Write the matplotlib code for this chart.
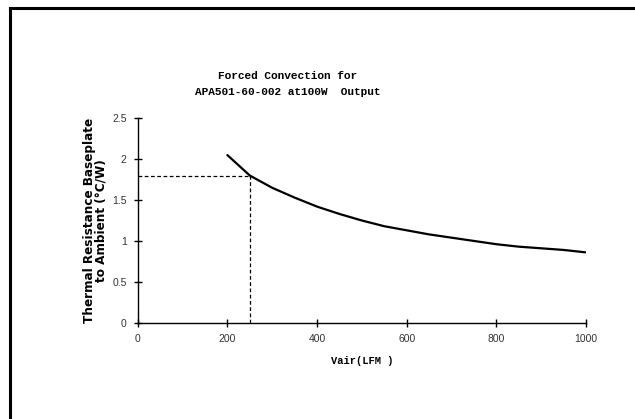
import matplotlib
matplotlib.use("Agg")
import matplotlib.pyplot as plt
from matplotlib.lines import Line2D

# Data
vair = [200, 250, 300, 350, 400, 450, 500, 550, 600, 650, 700, 750, 800, 850, 900, 950, 1000]
rth = [2.05, 1.80, 1.65, 1.53, 1.42, 1.33, 1.25, 1.18, 1.13, 1.08, 1.04, 1.00, 0.96, 0.93, 0.91, 0.89, 0.86]
marker_x = 250
marker_y = 1.8
xticks = [0, 200, 400, 600, 800, 1000]
yticks = [0, 0.5, 1, 1.5, 2, 2.5]
ytick_labels = ["0", "0.5", "1", "1.5", "2", "2.5"]

fig = plt.figure(figsize=(6.35, 4.19), dpi=100)
ax = fig.add_axes([0.2169, 0.2298, 0.7059, 0.4879])

ax.plot(vair, rth, color="black", lw=1.6, solid_capstyle="round")
ax.plot([0, marker_x], [marker_y, marker_y], color="black", lw=0.9, ls=(0, (3, 2)))
ax.plot([marker_x, marker_x], [0, marker_y], color="black", lw=0.9, ls=(0, (3, 2)))

ax.set_xlim(0, 1000)
ax.set_ylim(0, 2.5)
ax.set_xticks(xticks)
ax.set_xticklabels([str(v) for v in xticks])
ax.set_yticks(yticks)
ax.set_yticklabels(ytick_labels)
for s in ["top", "right"]:
    ax.spines[s].set_visible(False)
for s in ["left", "bottom"]:
    ax.spines[s].set_linewidth(1.0)
ax.tick_params(direction="inout", length=6, width=1.0, labelsize=7.5,
               labelcolor="#333333", pad=5)
for lab in ax.get_xticklabels() + ax.get_yticklabels():
    lab.set_family("Liberation Sans")

ax.set_xlabel("Vair(LFM )", family="Liberation Mono", fontweight="bold", fontsize=7.5, labelpad=9)
fig.text(0.150, 0.474, "Thermal Resistance Baseplate\nto Ambient (°C/W)", rotation=90,
         ha="center", va="center", family="DejaVu Sans", fontstretch="condensed",
         fontweight="bold", fontsize=9.6, linespacing=0.95)

fig.text(0.4535, 0.800, "Forced Convection for\nAPA501-60-002 at100W  Output",
         ha="center", va="center", family="Liberation Mono", fontweight="bold",
         fontsize=8.0, linespacing=1.75)

# Partial frame lines (top and left)
fig.add_artist(Line2D([10 / 635, 1.0], [1 - 8 / 419, 1 - 8 / 419], transform=fig.transFigure,
                      color="black", lw=2.2))
fig.add_artist(Line2D([10 / 635, 10 / 635], [0, 1 - 8 / 419], transform=fig.transFigure,
                      color="black", lw=2.2))

fig.savefig("out.png", dpi=100)
